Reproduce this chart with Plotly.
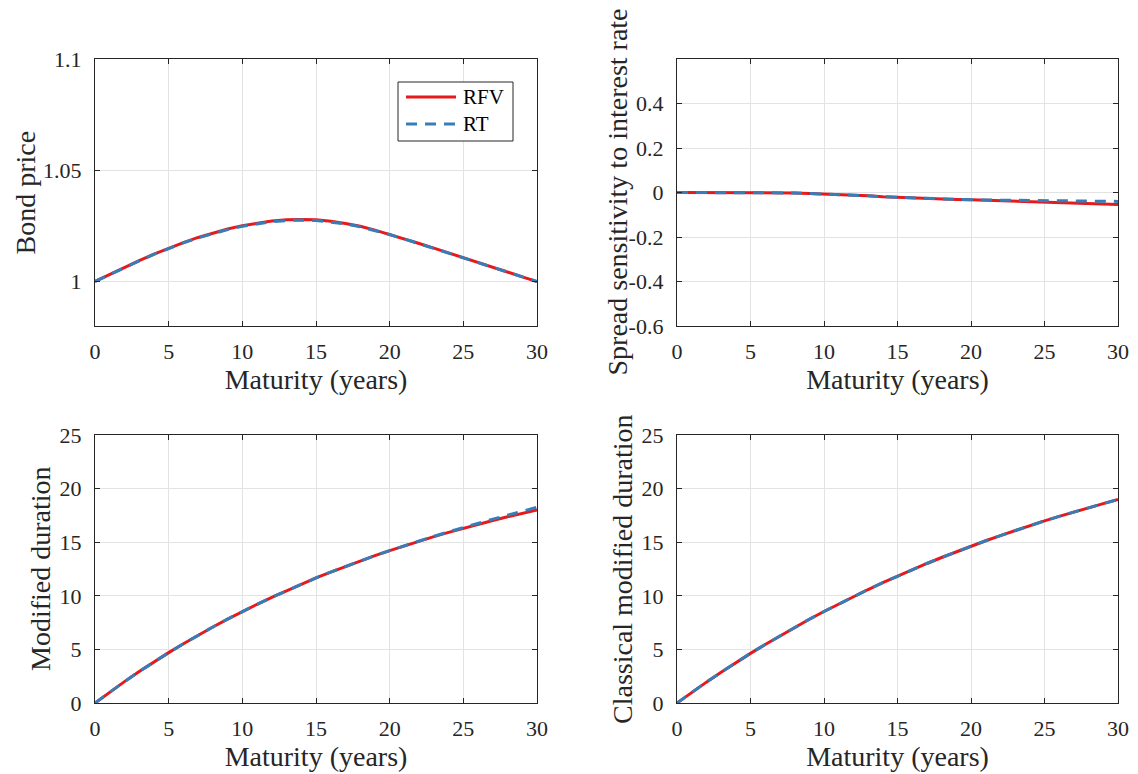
import plotly.graph_objects as go

maturity = list(range(0, 31))

price_rfv = [1.0000, 1.0032, 1.0064, 1.0094, 1.0123, 1.0150, 1.0175, 1.0198, 1.0218, 1.0236,
             1.0251, 1.0263, 1.0272, 1.0277, 1.0279, 1.0277, 1.0271, 1.0261, 1.0248, 1.0231,
             1.0212, 1.0192, 1.0171, 1.0150, 1.0128, 1.0107, 1.0086, 1.0064, 1.0043, 1.0021, 1.0000]
price_rt = [1.0000, 1.0032, 1.0063, 1.0093, 1.0122, 1.0149, 1.0174, 1.0196, 1.0216, 1.0233,
            1.0248, 1.0260, 1.0269, 1.0274, 1.0276, 1.0274, 1.0268, 1.0259, 1.0246, 1.0230,
            1.0211, 1.0191, 1.0170, 1.0149, 1.0127, 1.0106, 1.0085, 1.0064, 1.0043, 1.0021, 1.0000]

spread_rfv = [0.0, 0.0, 0.0, 0.0, 0.0, 0.0, -0.0005, -0.001, -0.002, -0.004,
              -0.006, -0.009, -0.012, -0.015, -0.019, -0.022, -0.024, -0.026, -0.029, -0.031,
              -0.033, -0.035, -0.037, -0.039, -0.042, -0.044, -0.046, -0.048, -0.050, -0.052, -0.054]
spread_rt = [0.0, 0.0, 0.0, 0.0, 0.0, 0.0, -0.0005, -0.001, -0.002, -0.004,
             -0.006, -0.009, -0.012, -0.015, -0.019, -0.022, -0.024, -0.026, -0.029, -0.031,
             -0.033, -0.034, -0.035, -0.036, -0.037, -0.038, -0.038, -0.039, -0.039, -0.040, -0.040]

moddur_rfv = [0.0, 1.017, 1.994, 2.933, 3.833, 4.698, 5.528, 6.326, 7.091, 7.827,
              8.533, 9.210, 9.862, 10.486, 11.087, 11.662, 12.217, 12.749, 13.258, 13.749,
              14.219, 14.670, 15.105, 15.521, 15.920, 16.303, 16.674, 17.027, 17.367, 17.694, 18.006]
moddur_rt = [0.0, 1.017, 1.994, 2.933, 3.833, 4.698, 5.528, 6.326, 7.091, 7.827,
             8.533, 9.210, 9.862, 10.486, 11.087, 11.662, 12.217, 12.749, 13.258, 13.749,
             14.219, 14.675, 15.115, 15.550, 15.970, 16.380, 16.770, 17.150, 17.520, 17.880, 18.250]

classic_rfv = [0.0, 0.989, 1.946, 2.870, 3.764, 4.628, 5.462, 6.270, 7.051, 7.808,
               8.538, 9.244, 9.926, 10.585, 11.223, 11.840, 12.436, 13.014, 13.571, 14.110,
               14.632, 15.135, 15.621, 16.092, 16.548, 16.986, 17.412, 17.823, 18.220, 18.604, 18.977]
classic_rt = list(classic_rfv)

series_names = ["RFV", "RT"]
x_title = "Maturity (years)"
y_titles = ["Bond price", "Spread sensitivity to interest rate",
            "Modified duration", "Classical modified duration"]
x_ticks = [0, 5, 10, 15, 20, 25, 30]
price_ticks = [1.0, 1.05, 1.1]
price_ticktext = ["1", "1.05", "1.1"]
spread_ticks = [-0.6, -0.4, -0.2, 0.0, 0.2, 0.4]
spread_ticktext = ["-0.6", "-0.4", "-0.2", "0", "0.2", "0.4"]
dur_ticks = [0, 5, 10, 15, 20, 25]

RED = "#e41a1c"
BLUE = "#377eb8"
TXT = "#262626"
FONT = "Liberation Serif"
DASH = "11px,8px"
W, H = 1138, 774

fig = go.Figure()

panels = [
    ("x", "y", price_rfv, price_rt),
    ("x2", "y2", spread_rfv, spread_rt),
    ("x3", "y3", moddur_rfv, moddur_rt),
    ("x4", "y4", classic_rfv, classic_rt),
]
for xa, ya, rfv, rt in panels:
    fig.add_trace(go.Scatter(x=maturity, y=rfv, mode="lines", name=series_names[0],
                             line=dict(color=RED, width=3), xaxis=xa, yaxis=ya,
                             showlegend=False))
    fig.add_trace(go.Scatter(x=maturity, y=rt, mode="lines", name=series_names[1],
                             line=dict(color=BLUE, width=3, dash=DASH), xaxis=xa, yaxis=ya,
                             showlegend=False))

def px_x(v):
    return v / W

def px_y(v):
    return 1 - v / H

common = dict(
    showline=True, linecolor=TXT, linewidth=1.3, mirror="ticks",
    ticks="inside", ticklen=5, tickcolor=TXT, tickwidth=1,
    showgrid=True, gridcolor="#e3e3e3", gridwidth=1, zeroline=False,
    automargin=False,
    tickfont=dict(family=FONT, size=22, color=TXT),
)

def xaxis(dom, anchor):
    return dict(common, domain=dom, anchor=anchor, range=[0, 30], tickvals=x_ticks,
                ticklabelstandoff=5,
                title=dict(text=x_title, font=dict(family=FONT, size=28, color=TXT),
                           standoff=0))

def yaxis(dom, anchor, rng, tv, tt):
    return dict(common, domain=dom, anchor=anchor, range=rng, tickvals=tv, ticktext=tt,
                ticklabelstandoff=8)

top_dom = [px_y(326), px_y(59)]
bot_dom = [px_y(703), px_y(435)]
left_dom = [px_x(95), px_x(537)]
right_dom = [px_x(677), px_x(1118)]

# manual legend (MATLAB style) inside the first panel
shapes = [
    dict(type="rect", xref="paper", yref="paper",
         x0=px_x(398), x1=px_x(513), y0=px_y(141), y1=px_y(82),
         line=dict(color=TXT, width=1), fillcolor="white", layer="above"),
    dict(type="line", xref="paper", yref="paper",
         x0=px_x(406), x1=px_x(456), y0=px_y(97), y1=px_y(97),
         line=dict(color=RED, width=3), layer="above"),
    dict(type="line", xref="paper", yref="paper",
         x0=px_x(406), x1=px_x(456), y0=px_y(124), y1=px_y(124),
         line=dict(color=BLUE, width=3, dash=DASH), layer="above"),
]
annotations = [
    dict(xref="paper", yref="paper", x=px_x(461), y=px_y(97), text=series_names[0],
         showarrow=False, xanchor="left", yanchor="middle",
         font=dict(family=FONT, size=21, color="#000000")),
    dict(xref="paper", yref="paper", x=px_x(461), y=px_y(124), text=series_names[1],
         showarrow=False, xanchor="left", yanchor="middle",
         font=dict(family=FONT, size=21, color="#000000")),
]
# y-axis titles placed like MATLAB ylabels
ytitle_pos = [(25, 192.5), (617, 192.5), (40, 569), (622, 569)]
for title, (cx, cy) in zip(y_titles, ytitle_pos):
    annotations.append(dict(xref="paper", yref="paper", x=px_x(cx), y=px_y(cy), text=title,
                            showarrow=False, textangle=-90, xanchor="center", yanchor="middle",
                            font=dict(family=FONT, size=28, color=TXT)))

fig.update_layout(
    width=W, height=H,
    margin=dict(l=0, r=0, t=0, b=0, autoexpand=False),
    paper_bgcolor="white", plot_bgcolor="white",
    font=dict(family=FONT, color=TXT),
    xaxis=xaxis(left_dom, "y"),
    yaxis=yaxis(top_dom, "x", [0.98, 1.1], price_ticks, price_ticktext),
    xaxis2=xaxis(right_dom, "y2"),
    yaxis2=yaxis(top_dom, "x2", [-0.6, 0.6], spread_ticks, spread_ticktext),
    xaxis3=xaxis(left_dom, "y3"),
    yaxis3=yaxis(bot_dom, "x3", [0, 25], dur_ticks, [str(t) for t in dur_ticks]),
    xaxis4=xaxis(right_dom, "y4"),
    yaxis4=yaxis(bot_dom, "x4", [0, 25], dur_ticks, [str(t) for t in dur_ticks]),
    shapes=shapes,
    annotations=annotations,
    showlegend=False,
)

fig.write_html("out.html")
